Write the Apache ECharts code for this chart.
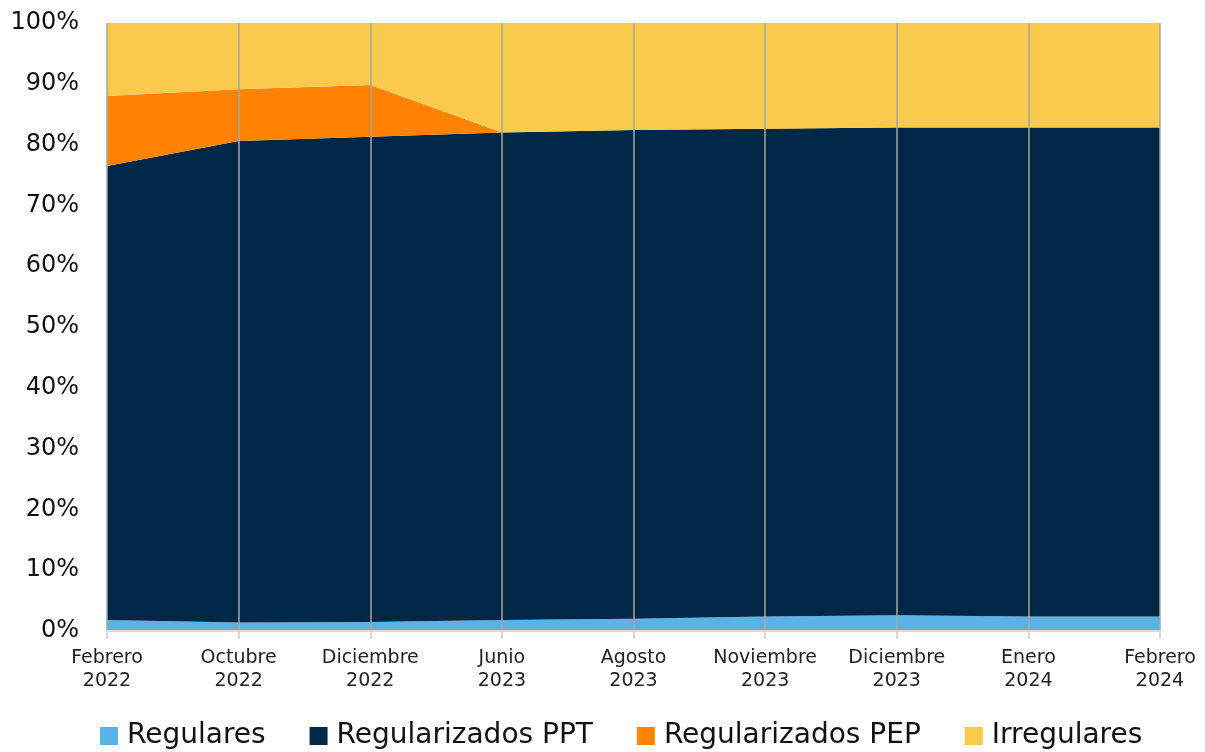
<!DOCTYPE html>
<html>
<head>
<meta charset="utf-8">
<script src="https://cdn.jsdelivr.net/npm/echarts@6/dist/echarts.min.js"></script>
<style>
html,body{margin:0;padding:0;background:#fff;}
#chart{width:1205px;height:752px;}
</style>
</head>
<body>
<div id="chart"></div>
<script>
const categories = ['Febrero\n2022','Octubre\n2022','Diciembre\n2022','Junio\n2023','Agosto\n2023','Noviembre\n2023','Diciembre\n2023','Enero\n2024','Febrero\n2024'];
const regulares = [1.8,1.4,1.5,1.8,2.0,2.4,2.6,2.4,2.4];
const regularizadosPPT = [74.7,79.2,79.8,80.2,80.4,80.2,80.2,80.4,80.4];
const regularizadosPEP = [11.5,8.5,8.5,0,0,0,0,0,0];
const irregulares = [12.0,10.9,10.2,18.0,17.6,17.4,17.2,17.2,17.2];
const yTicks = [0,10,20,30,40,50,60,70,80,90,100];

const font = '"DejaVu Sans", sans-serif';
const chart = echarts.init(document.getElementById('chart'));
function areaSeries(name, data, color){
  return {
    name: name, type: 'line', stack: 'total', data: data,
    showSymbol: false, symbol: 'none',
    lineStyle: {width: 0},
    areaStyle: {color: color, opacity: 1},
    itemStyle: {color: color},
    emphasis: {disabled: true}
  };
}
chart.setOption({
  animation: false,
  textStyle: {fontFamily: font},
  grid: {left: 107, right: 45, top: 23, bottom: 121},
  legend: {
    top: 717, left: 95, icon: 'rect', itemWidth: 18, itemHeight: 18, itemGap: 44,
    textStyle: {fontSize: 28, color: '#111', fontFamily: font, padding: [0,0,0,4]},
    data: ['Regulares','Regularizados PPT','Regularizados PEP','Irregulares']
  },
  xAxis: {
    type: 'category', data: categories, boundaryGap: false, z: 5,
    axisLine: {show: true, lineStyle: {color: '#d9d9d9', width: 2}},
    axisTick: {show: true, length: 8, lineStyle: {color: '#d9d9d9', width: 2}},
    splitLine: {show: true, lineStyle: {color: '#a6a6a6', width: 1.5}},
    axisLabel: {fontSize: 19, color: '#222', lineHeight: 23, margin: 16, interval: 0, fontFamily: font}
  },
  yAxis: {
    type: 'value', min: 0, max: 100, interval: 10,
    axisLine: {show: false}, axisTick: {show: false},
    splitLine: {show: false},
    axisLabel: {fontSize: 24, color: '#111', margin: 28, fontFamily: font,
      formatter: function(v){ return yTicks.indexOf(v) >= 0 ? v + '%' : ''; }}
  },
  series: [
    areaSeries('Regulares', regulares, '#5AB3E6'),
    areaSeries('Regularizados PPT', regularizadosPPT, '#002846'),
    areaSeries('Regularizados PEP', regularizadosPEP, '#FF8200'),
    areaSeries('Irregulares', irregulares, '#F9CA4B')
  ]
});
</script>
</body>
</html>
